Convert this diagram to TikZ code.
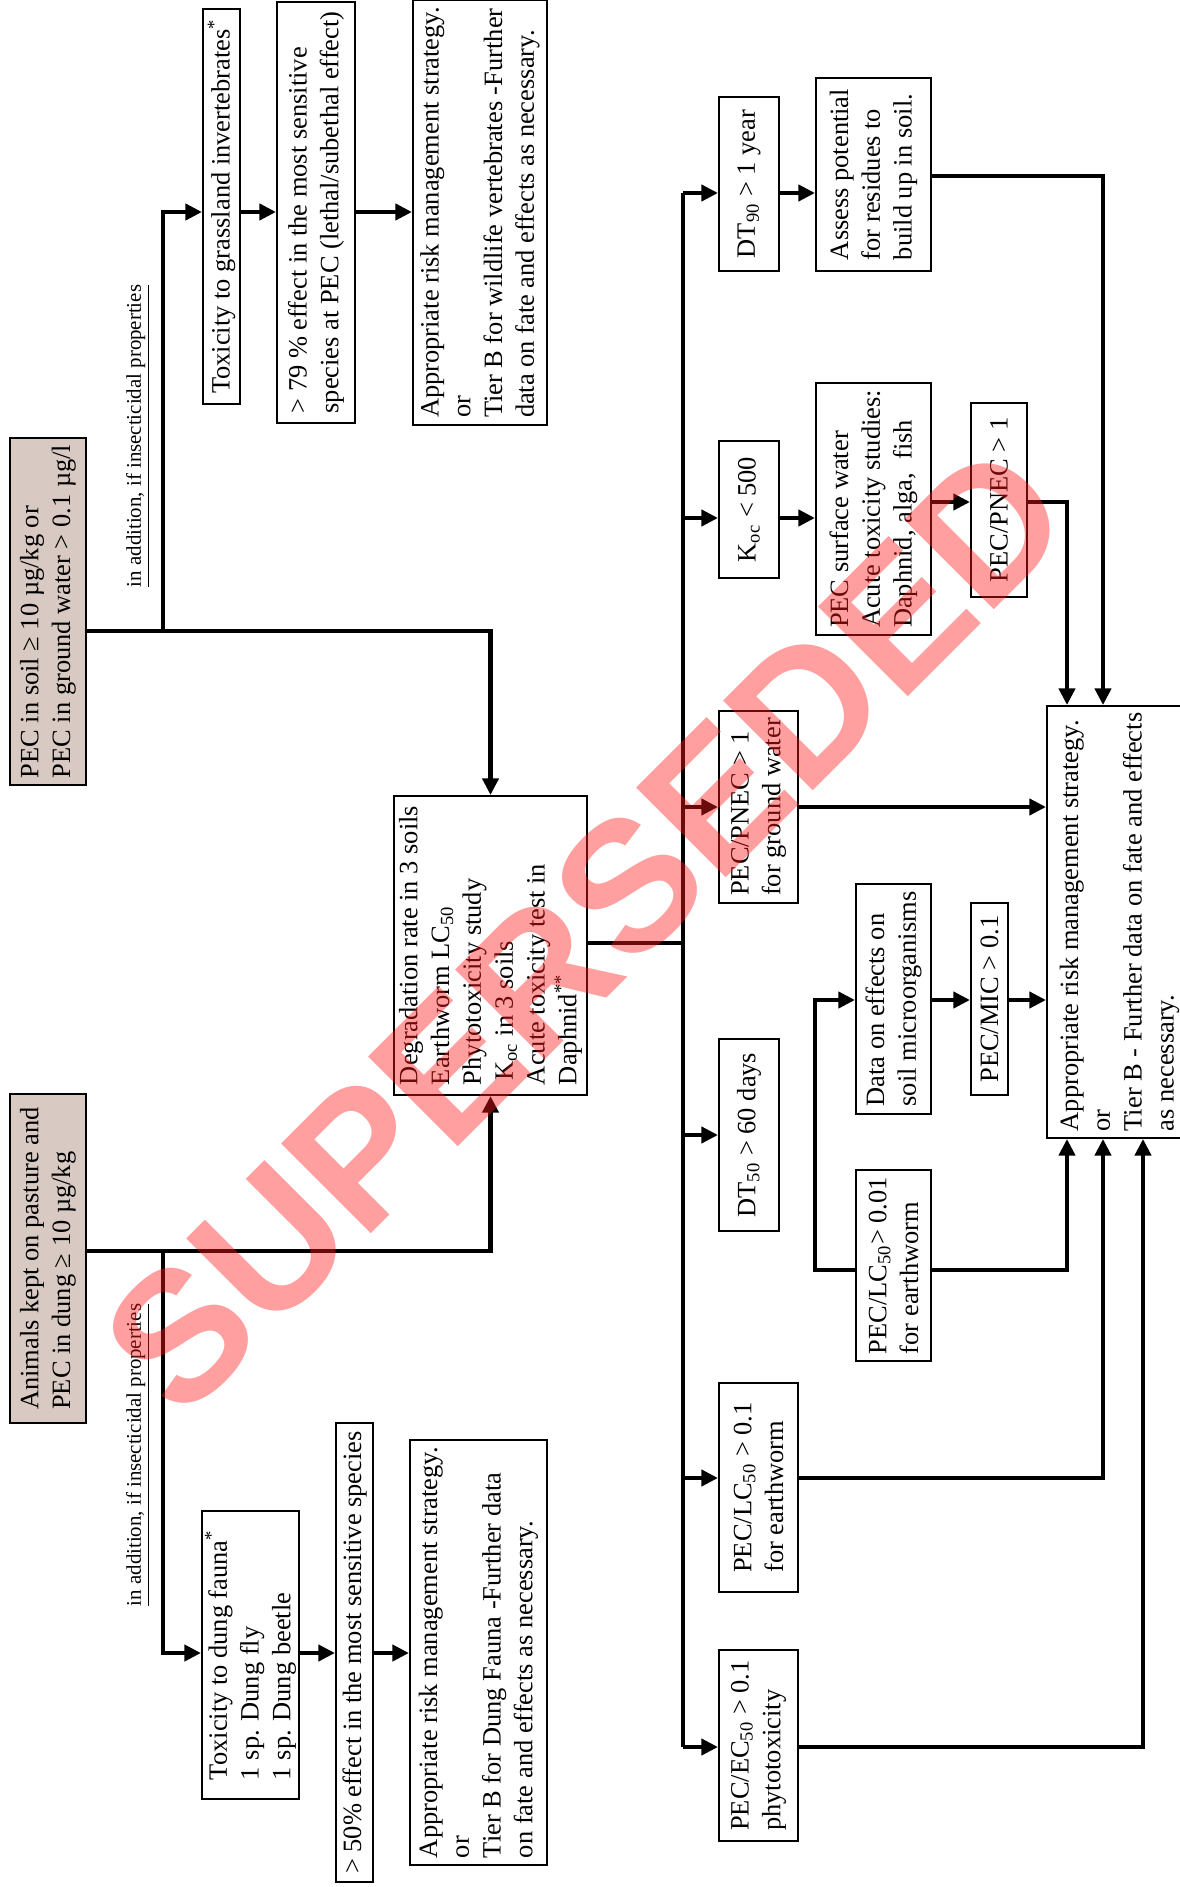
\documentclass[tikz,border=0pt]{standalone}
\usepackage{fontspec}
\setmainfont{Liberation Serif}
\setsansfont{Liberation Sans}
\usepackage{tikz}
\usetikzlibrary{arrows.meta,calc}
\definecolor{srcfill}{HTML}{D8CAC2}
\definecolor{stampred}{HTML}{FF1A1A}
\newcommand{\boxfs}{\fontsize{11.9}{14.3}\selectfont}
\newcommand{\notefs}{\fontsize{9.4}{11}\selectfont}
\newcommand{\stampfs}{\fontsize{83}{83}\selectfont\sffamily\bfseries}
\tikzset{
  box/.style={draw, line width=0.9pt, rotate=90, align=left, inner xsep=3pt,
              inner ysep=1pt, font=\boxfs, fill=white},
  srcbox/.style={box, fill=srcfill},
  sz/.style 2 args={minimum width=#1*0.45pt, minimum height=#2*0.45pt},
  flow/.style={line width=2.2pt, -{Triangle[length=7.5pt,width=7.2pt]}},
  link/.style={line width=2.2pt},
  note/.style={rotate=90, font=\notefs, inner sep=0pt},
  stamp/.style={rotate=45, font=\stampfs, text=stampred, text opacity=0.42},
}

\begin{document}
\begin{tikzpicture}[x=0.45pt, y=-0.45pt]
\useasboundingbox (0,0) rectangle (1180,1887);

% entry conditions
\node[srcbox, sz={343}{76}] (soil) at (48,611.5)
  {PEC in soil ≥ 10 µg/kg or\\PEC in ground water > 0.1 µg/l};
\node[srcbox, sz={329}{76}] (animals) at (48,1258.5)
  {Animals kept on pasture and\\PEC in dung ≥ 10 µg/kg};
\node[note] (lblA) at (138,436) {\underline{in addition, if insecticidal properties}};
\node[note] (lblB) at (138,1455) {\underline{in addition, if insecticidal properties}};

% insecticide branches
\node[box, sz={395}{37}] (grass) at (221.5,206.5) {Toxicity to grassland invertebrates\textsuperscript{*}};
\node[box, sz={421}{78}] (eff79) at (316,212.5)
  {> 79 \% effect in the most sensitive\\species at PEC (lethal/subethal effect)};
\node[box, sz={421}{134}] (apptop) at (480,212.5)
  {Appropriate risk management strategy.\\or\\Tier B for wildlife vertebrates -Further\\data on fate and effects as necessary.};
\node[box, sz={288}{97}] (dung) at (250.5,1655)
  {Toxicity to dung fauna\textsuperscript{*}\\1 sp. Dung fly\\1 sp. Dung beetle};
\node[box, sz={459}{37}] (eff50) at (354.5,1652.5) {> 50\% effect in the most sensitive species};
\node[box, sz={421}{137}] (appbot) at (478.5,1652.5)
  {Appropriate risk management strategy.\\or\\Tier B for Dung Fauna -Further data\\on fate and effects as necessary.};

% base data set
\node[box, sz={299}{193}] (degr) at (490.5,945.5)
  {Degradation rate in 3 soils\\Earthworm LC\textsubscript{50}\\Phytotoxicity study\\\hspace*{2pt}K\textsubscript{oc} in 3 soils\\Acute toxicity test in\\Daphnid\textsuperscript{**}};

% triggers
\node[box, sz={174}{60}] (dt90) at (749,184) {DT\textsubscript{90} > 1 year};
\node[box, sz={193}{115}] (assess) at (873.5,174.5) {Assess potential\\for residues to\\build up in soil.};
\node[box, sz={137}{60}] (koc) at (749,509.5) {K\textsubscript{oc} < 500};
\node[box, sz={248}{115}] (surf) at (873.5,509)
  {PEC surface water\\Acute toxicity studies:\\Daphnid, alga,\ \ fish};
\node[box, sz={194}{56}] (pnec) at (999,500) {PEC/PNEC > 1};
\node[box, sz={192}{79}] (gw) at (758.5,807) {PEC/PNEC > 1\\for ground water};
\node[box, sz={230}{75}] (micro) at (893.5,999) {Data on effects on\\soil microorganisms};
\node[box, sz={192}{37}] (mic) at (989.5,999) {PEC/MIC > 0.1};
\node[box, sz={192}{60}] (dt50) at (749,1135) {DT\textsubscript{50} > 60 days};
\node[box, sz={187}{75}] (lcA) at (893.5,1265.5) {PEC/LC\textsubscript{50}> 0.01\\for earthworm};
\node[box, sz={209}{79}] (lcB) at (758.5,1487.5) {PEC/LC\textsubscript{50} > 0.1\\for earthworm};
\node[box, sz={191}{79}] (ecB) at (758.5,1745.5) {PEC/EC\textsubscript{50} > 0.1\\phytotoxicity};
\node[box, sz={422}{145}] (appright) at (1119.5,922)
  {Appropriate risk management strategy.\\or\\Tier B - Further data on fate and effects\\as necessary.};

% junctions
\coordinate (j1) at (163,631);
\coordinate (r1) at (163,212);
\coordinate (j2) at (163,1251);
\coordinate (r2) at (163,1653);
\coordinate (bj) at (683,943);
\coordinate (t1) at (683,193);
\coordinate (t2) at (683,518);
\coordinate (t3) at (683,807);
\coordinate (t4) at (683,1135);
\coordinate (t5) at (683,1478);
\coordinate (t6) at (683,1747);
\coordinate (m1) at (815,1000);
\coordinate (m2) at (815,1270);
\coordinate (k1) at (1103,176);
\coordinate (k2) at (1067,502);
\coordinate (k3) at (1067,1270);
\coordinate (k4) at (1103,1478);
\coordinate (k5) at (1143,1747);

\draw[flow] (j1 -| soil.south) -- (j1 -| degr.east) -- (degr.east);
\draw[flow] (j1) -- (r1) -- (r1 -| grass.north);
\draw[flow] (r1 -| grass.south) -- (r1 -| eff79.north);
\draw[flow] (r1 -| eff79.south) -- (r1 -| apptop.north);
\draw[flow] (j2 -| animals.south) -- (j2 -| degr.west) -- (degr.west);
\draw[flow] (j2) -- (r2) -- (r2 -| dung.north);
\draw[flow] (r2 -| dung.south) -- (r2 -| eff50.north);
\draw[flow] (r2 -| eff50.south) -- (r2 -| appbot.north);

\draw[link] (bj -| degr.south) -- (bj);
\draw[link] (t1) -- (t6);
\draw[flow] (t1) -- (t1 -| dt90.north);
\draw[flow] (t1 -| dt90.south) -- (t1 -| assess.north);
\draw[flow] (k1 -| assess.south) -- (k1) -- (k1 |- appright.east);
\draw[flow] (t2) -- (t2 -| koc.north);
\draw[flow] (t2 -| koc.south) -- (t2 -| surf.north);
\draw[flow] (k2 -| surf.south) -- (k2 -| pnec.north);
\draw[flow] (k2 -| pnec.south) -- (k2) -- (k2 |- appright.east);
\draw[flow] (t3) -- (t3 -| gw.north);
\draw[flow] (t3 -| gw.south) -- (t3 -| appright.north);
\draw[flow] (t4) -- (t4 -| dt50.north);
\draw[flow, {Triangle[length=7.5pt,width=7.2pt]}-] (m1 -| micro.north) -- (m1) -- (m2) -- (m2 -| lcA.north);
\draw[flow] (m1 -| micro.south) -- (m1 -| mic.north);
\draw[flow] (m1 -| mic.south) -- (m1 -| appright.north);
\draw[flow] (k3 -| lcA.south) -- (k3) -- (k3 |- appright.west);
\draw[flow] (t5) -- (t5 -| lcB.north);
\draw[flow] (k4 -| lcB.south) -- (k4) -- (k4 |- appright.west);
\draw[flow] (t6) -- (t6 -| ecB.north);
\draw[flow] (k5 -| ecB.south) -- (k5) -- (k5 |- appright.west);

\node[stamp] (wm) at (586,929) {SUPERSEDED};
\end{tikzpicture}
\end{document}
